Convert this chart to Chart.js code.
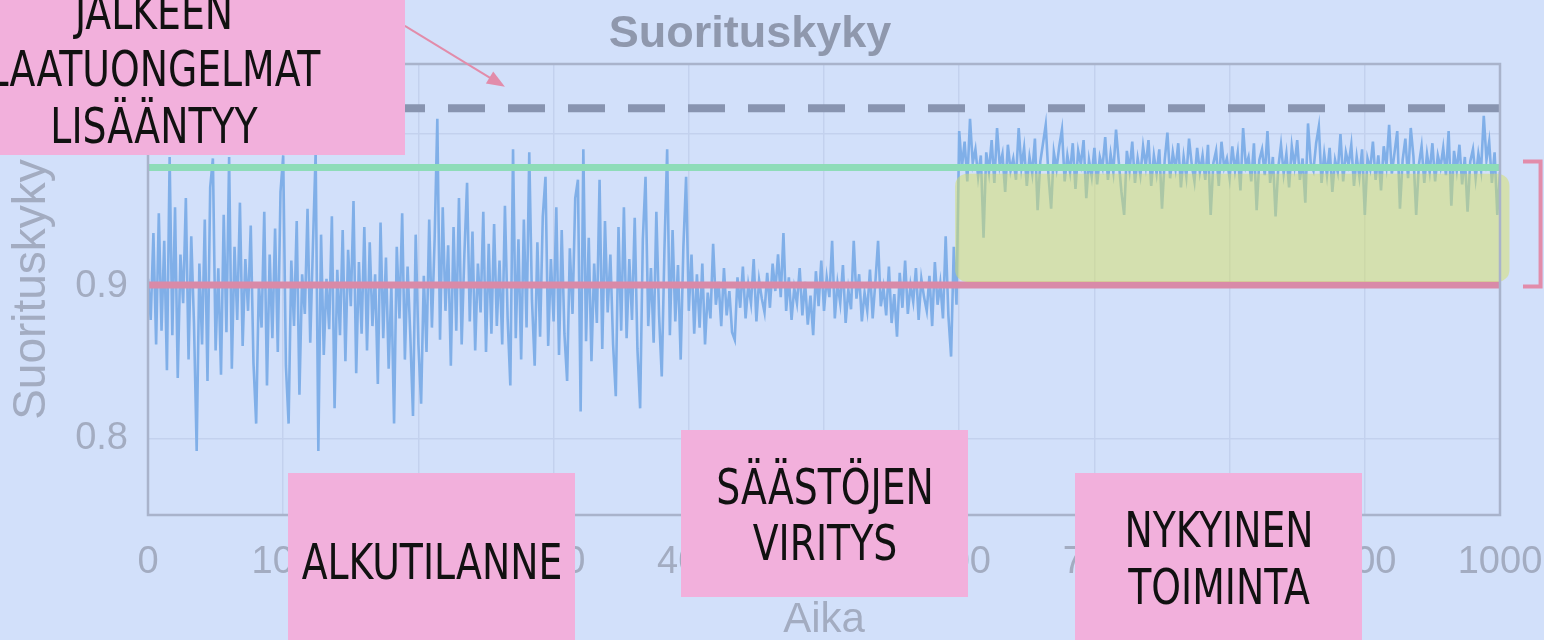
<!DOCTYPE html>
<html lang="fi">
<head>
<meta charset="utf-8">
<title>Suorituskyky</title>
<script src="https://cdn.jsdelivr.net/npm/chart.js@4.4.1/dist/chart.umd.min.js"></script>
<style>
  html, body { margin: 0; padding: 0; background: #d2e0fa; overflow: hidden; }
  #kehys { position: relative; width: 1544px; height: 640px; }
  #kaavio { position: absolute; left: 0; top: 0; }
  .lappu {
    position: absolute; background: #f2b0dc; color: #111;
    font-family: "Liberation Sans Narrow", "DejaVu Sans Condensed", sans-serif;
    font-size: 50px; line-height: 57px; text-align: center; box-sizing: border-box;
  }
  .lappu span {
    display: block; width: 600px; margin-left: calc(50% - 300px);
    transform: scaleX(0.84); white-space: nowrap;
  }
</style>
</head>
<body>
<div id="kehys">
  <canvas id="kaavio" width="1544" height="640"></canvas>

  <div class="lappu" style="left:-97px; top:-16px; width:502px; height:171px;">
    <span>JÄLKEEN</span><span>LAATUONGELMAT</span><span>LISÄÄNTYY</span>
  </div>
  <div class="lappu" style="left:288px; top:473px; width:287px; height:200px; padding-top:61px;">
    <span>ALKUTILANNE</span>
  </div>
  <div class="lappu" style="left:681px; top:430px; width:287px; height:167px; padding-top:29px; line-height:56px;">
    <span>SÄÄSTÖJEN</span><span>VIRITYS</span>
  </div>
  <div class="lappu" style="left:1075px; top:473px; width:287px; height:200px; padding-top:29px;">
    <span>NYKYINEN</span><span>TOIMINTA</span>
  </div>
</div>

<script>
// aika-askel mittausten välillä
const aikaAskel = 2;

// alkutilanne, aika 0..398
const alkuArvot = [
  0.905, 0.878, 0.935, 0.862, 0.948, 0.871, 0.930, 0.845, 0.985, 0.868,
  0.952, 0.840, 0.921, 0.889, 0.958, 0.852, 0.933, 0.876, 0.792, 0.915,
  0.862, 0.944, 0.838, 0.965, 0.984, 0.858, 0.912, 0.842, 0.947, 0.870,
  0.985, 0.846, 0.926, 0.878, 0.955, 0.861, 0.918, 0.884, 0.940, 0.850,
  0.810, 0.902, 0.873, 0.949, 0.835, 0.921, 0.866, 0.938, 0.857, 0.962,
  0.986, 0.848, 0.810, 0.917, 0.874, 0.943, 0.829, 0.908, 0.882, 0.951,
  0.863, 0.927, 0.988, 0.792, 0.934, 0.855, 0.905, 0.872, 0.946, 0.820,
  0.911, 0.868, 0.937, 0.851, 0.924, 0.887, 0.956, 0.843, 0.916, 0.869,
  0.939, 0.858, 0.929, 0.874, 0.908, 0.836, 0.942, 0.866, 0.919, 0.846,
  0.901, 0.810, 0.926, 0.879, 0.948, 0.852, 0.913, 0.868, 0.815, 0.934,
  0.862, 0.823, 0.907, 0.857, 0.944, 0.873, 0.931, 1.010, 0.865, 0.952,
  0.884, 0.927, 0.848, 0.939, 0.871, 0.958, 0.862, 0.921, 0.968, 0.877,
  0.936, 0.858, 0.915, 0.883, 0.949, 0.857, 0.928, 0.869, 0.941, 0.874,
  0.917, 0.862, 0.953, 0.879, 0.835, 0.990, 0.866, 0.931, 0.852, 0.944,
  0.873, 0.988, 0.891, 0.848, 0.929, 0.867, 0.946, 0.972, 0.861, 0.918,
  0.877, 0.952, 0.855, 0.937, 0.869, 0.838, 0.925, 0.882, 0.958, 0.970,
  0.818, 0.990, 0.864, 0.932, 0.851, 0.915, 0.876, 0.970, 0.859, 0.943,
  0.883, 0.921, 0.862, 0.828, 0.939, 0.871, 0.952, 0.866, 0.918, 0.878,
  0.945, 0.859, 0.820, 0.931, 0.972, 0.874, 0.912, 0.863, 0.949, 0.881,
  0.841, 0.925, 0.990, 0.868, 0.937, 0.877, 0.914, 0.852, 0.926, 0.972
];

// säästöjen viritys, aika 400..598
const viritysArvot = [
  0.884, 0.921, 0.869, 0.908, 0.873, 0.915, 0.862, 0.896, 0.879, 0.928,
  0.888, 0.903, 0.874, 0.912, 0.881, 0.897, 0.870, 0.865, 0.906, 0.886,
  0.913, 0.879, 0.901, 0.889, 0.918, 0.877, 0.904, 0.892, 0.883, 0.909,
  0.886, 0.915, 0.897, 0.921, 0.893, 0.935, 0.884, 0.906, 0.878, 0.899,
  0.889, 0.912, 0.881, 0.903, 0.875, 0.894, 0.868, 0.910, 0.887, 0.917,
  0.884, 0.906, 0.893, 0.930, 0.879, 0.902, 0.889, 0.914, 0.876, 0.898,
  0.885, 0.930, 0.892, 0.908, 0.877, 0.896, 0.884, 0.911, 0.879, 0.903,
  0.930, 0.887, 0.899, 0.881, 0.913, 0.876, 0.895, 0.867, 0.909, 0.886,
  0.917, 0.882, 0.901, 0.890, 0.912, 0.878, 0.905, 0.893, 0.884, 0.907,
  0.874, 0.916, 0.888, 0.902, 0.879, 0.933, 0.881, 0.854, 0.926, 0.888
];

// nykyinen toiminta, aika 600..1000
const nykyArvot = [
  1.002, 0.978, 0.995, 0.969, 1.010, 0.981, 0.990, 0.972, 0.986, 0.932,
  0.988, 0.975, 0.996, 0.968, 1.004, 0.979, 0.987, 0.962, 0.993, 0.976,
  0.984, 0.970, 1.004, 0.978, 0.991, 0.966, 0.985, 0.974, 0.997, 0.950,
  0.982, 0.994, 1.006, 0.973, 0.951, 0.988, 0.977, 0.992, 1.003, 0.969,
  0.986, 0.975, 0.994, 0.964, 0.989, 0.980, 0.996, 0.958, 0.983, 0.972,
  0.991, 0.967, 0.985, 0.978, 0.998, 0.970, 0.987, 0.975, 1.003, 0.982,
  0.962, 0.947, 0.989, 0.976, 0.995, 0.968, 0.984, 0.973, 0.992, 0.979,
  0.996, 0.966, 0.986, 0.974, 0.990, 0.951, 0.983, 1.001, 0.971, 0.988,
  0.977, 0.994, 0.965, 0.985, 0.972, 0.997, 0.980, 0.969, 0.991, 0.975,
  0.986, 0.970, 0.993, 0.947, 0.981, 0.989, 0.966, 0.995, 0.978, 0.984,
  0.971, 0.992, 0.976, 0.988, 0.963, 1.004, 0.979, 0.985, 0.969, 0.994,
  0.950, 0.983, 0.990, 0.973, 1.002, 0.968, 0.985, 0.946, 0.978, 0.993,
  0.974, 0.987, 0.965, 0.992, 0.979, 0.996, 0.970, 0.984, 0.955, 1.007,
  0.981, 0.976, 0.994, 1.005, 0.968, 0.987, 0.973, 0.991, 0.962, 0.983,
  0.975, 1.000, 0.969, 0.988, 0.980, 0.993, 0.966, 0.985, 0.972, 0.990,
  0.947, 0.984, 0.977, 0.995, 0.970, 0.986, 0.963, 0.992, 0.979, 1.006,
  0.974, 0.988, 1.002, 0.951, 0.983, 0.997, 0.971, 1.004, 0.985, 0.947,
  0.980, 0.992, 0.968, 0.987, 0.975, 0.994, 0.969, 0.986, 0.978, 0.991,
  0.973, 1.002, 0.953, 0.989, 0.976, 0.993, 0.967, 0.985, 0.949, 0.982,
  0.990, 0.971, 0.987, 0.976, 1.012, 0.983, 0.995, 0.968, 0.988, 0.947,
  0.975
];

const xTikit = [0, 100, 200, 300, 400, 500, 600, 700, 800, 900, 1000];
const yTikit = [0.8, 0.9, 1.0];

// vaakaviivat
const ylaraja = 1.017;   // katkoviiva
const tavoite = 0.978;   // vihreä
const alaraja = 0.901;   // punainen

// korostukset kuvassa, data-yksiköissä
const korostus = { x0: 597, x1: 1007, y0: 0.903, y1: 0.974 };
const nuoli = { x0: 190, y0: 1.071, x1: 264, y1: 1.031 };
const sulje = { x0: 1017, x1: 1030, y0: 0.982, y1: 0.900 };

const suorituskyky = alkuArvot.concat(viritysArvot, nykyArvot);
const pisteet = suorituskyky.map((v, i) => ({ x: i * aikaAskel, y: v }));
const vaaka = (y) => [{ x: 0, y: y }, { x: 1000, y: y }];

const tekstiVari = "#a3acc1";

const merkinnat = {
  id: "merkinnat",
  afterDatasetsDraw(chart) {
    const { ctx, scales: { x, y } } = chart;
    // keltainen korostus
    const l = x.getPixelForValue(korostus.x0), r = x.getPixelForValue(korostus.x1);
    const t = y.getPixelForValue(korostus.y1), b = y.getPixelForValue(korostus.y0);
    ctx.save();
    ctx.fillStyle = "rgba(214,224,100,0.5)";
    ctx.beginPath();
    ctx.roundRect(l, t, r - l, b - t, 12);
    ctx.fill();
    ctx.restore();
  },
  afterDraw(chart) {
    const { ctx, chartArea: a, scales: { x, y } } = chart;
    ctx.save();
    // kehys
    ctx.strokeStyle = "#a9b3cb";
    ctx.lineWidth = 2.5;
    ctx.strokeRect(a.left, a.top, a.right - a.left, a.bottom - a.top);

    // nuoli
    const x0 = x.getPixelForValue(nuoli.x0), y0 = y.getPixelForValue(nuoli.y0);
    const x1 = x.getPixelForValue(nuoli.x1), y1 = y.getPixelForValue(nuoli.y1);
    const kulma = Math.atan2(y1 - y0, x1 - x0);
    ctx.strokeStyle = "#e28caa";
    ctx.fillStyle = "#e28caa";
    ctx.lineWidth = 2;
    ctx.beginPath();
    ctx.moveTo(x0, y0);
    ctx.lineTo(x1 - 14 * Math.cos(kulma), y1 - 14 * Math.sin(kulma));
    ctx.stroke();
    ctx.beginPath();
    ctx.moveTo(x1, y1);
    ctx.lineTo(x1 - 18 * Math.cos(kulma) + 7 * Math.sin(kulma), y1 - 18 * Math.sin(kulma) - 7 * Math.cos(kulma));
    ctx.lineTo(x1 - 18 * Math.cos(kulma) - 7 * Math.sin(kulma), y1 - 18 * Math.sin(kulma) + 7 * Math.cos(kulma));
    ctx.closePath();
    ctx.fill();

    // sulje oikealla
    const sx0 = x.getPixelForValue(sulje.x0), sx1 = x.getPixelForValue(sulje.x1);
    const sy0 = y.getPixelForValue(sulje.y0), sy1 = y.getPixelForValue(sulje.y1);
    ctx.lineWidth = 4;
    ctx.beginPath();
    ctx.moveTo(sx0, sy0);
    ctx.lineTo(sx1, sy0);
    ctx.lineTo(sx1, sy1);
    ctx.lineTo(sx0, sy1);
    ctx.stroke();
    ctx.restore();
  }
};

new Chart("kaavio", {
  type: "line",
  data: {
    datasets: [
      {
        label: "Yläraja",
        data: vaaka(ylaraja),
        borderColor: "#8894b0",
        borderWidth: 8,
        borderDash: [37, 23],
        pointRadius: 0,
        order: 1,
      },
      {
        label: "Tavoite",
        data: vaaka(tavoite),
        borderColor: "#8edcb8",
        borderWidth: 7,
        pointRadius: 0,
        order: 2,
      },
      {
        label: "Alaraja",
        data: vaaka(alaraja),
        borderColor: "#d98aa8",
        borderWidth: 7,
        pointRadius: 0,
        order: 3,
      },
      {
        label: "Suorituskyky",
        data: pisteet,
        borderColor: "rgb(128,175,232)",
        borderWidth: 2.6,
        pointRadius: 0,
        tension: 0,
        order: 4,
      },
    ],
  },
  options: {
    responsive: false,
    animation: false,
    devicePixelRatio: 1,
    layout: { padding: { left: 0, right: 44, top: 0, bottom: 0 } },
    plugins: {
      legend: { display: false },
      tooltip: { enabled: false },
      title: {
        display: true,
        text: "Suorituskyky",
        color: "#8f98ad",
        font: { family: "Liberation Sans", size: 45, weight: "bold" },
        padding: { top: 8, bottom: 2 },
      },
    },
    scales: {
      x: {
        type: "linear",
        min: 0,
        max: 1000,
        afterBuildTicks: (s) => { s.ticks = xTikit.map((v) => ({ value: v })); },
        afterFit: (s) => { s.height = 125; s.paddingLeft = 0; s.paddingRight = 0; },
        grid: { color: "#c3d1ee", lineWidth: 1.5, drawTicks: false },
        border: { display: false },
        ticks: {
          padding: 25,
          color: tekstiVari,
          font: { family: "Liberation Sans", size: 38 },
          maxRotation: 0,
          callback: (v) => String(v),
        },
        title: {
          display: true,
          text: "Aika",
          color: tekstiVari,
          font: { family: "Liberation Sans", size: 42, lineHeight: 0.95 },
          padding: 0,
        },
      },
      y: {
        min: 0.75,
        max: 1.046,
        afterBuildTicks: (s) => { s.ticks = yTikit.map((v) => ({ value: v })); },
        afterFit: (s) => { s.width = 148; s.paddingTop = 0; s.paddingBottom = 0; },
        grid: { color: "#c3d1ee", lineWidth: 1.5, drawTicks: false },
        border: { display: false },
        ticks: {
          padding: 20,
          color: tekstiVari,
          font: { family: "Liberation Sans", size: 38 },
          callback: (v) => String(v),
        },
        title: {
          display: true,
          text: "Suorituskyky",
          color: tekstiVari,
          font: { family: "Liberation Sans", size: 46, lineHeight: 1.2 },
          padding: { top: 5, bottom: 0 },
        },
      },
    },
  },
  plugins: [merkinnat],
});
</script>
</body>
</html>
